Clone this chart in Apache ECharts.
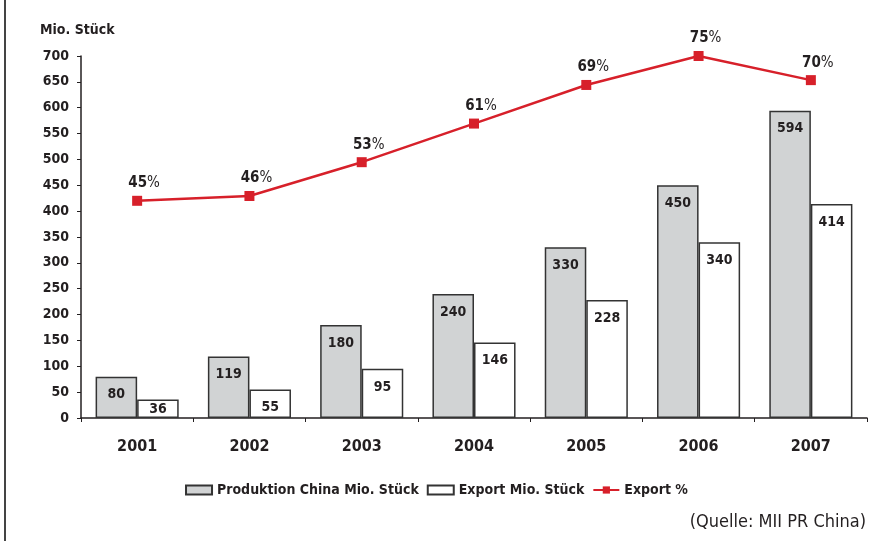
<!DOCTYPE html>
<html>
<head>
<meta charset="utf-8">
<script src="https://cdn.jsdelivr.net/npm/echarts@6/dist/echarts.min.js"></script>
<style>
  html, body { margin: 0; padding: 0; background: #fff; }
  #chart { width: 873px; height: 541px; }
</style>
</head>
<body>
<div id="chart"></div>
<script>
var years = ['2001', '2002', '2003', '2004', '2005', '2006', '2007'];
var produktion = [80, 119, 180, 240, 330, 450, 594];
var exportMio = [36, 55, 95, 146, 228, 340, 414];
var exportPct = [45, 46, 53, 61, 69, 75, 70];

var FONT = "'Liberation Sans Narrow', 'DejaVu Sans Condensed', sans-serif";
var INK = '#231f20';

var chart = echarts.init(document.getElementById('chart'));

var barLabel = {
    show: true,
    position: 'insideTop',
    distance: 11,
    color: INK,
    fontFamily: FONT,
    fontSize: 14,
    fontWeight: 'bold'
};

// kleine Balken: Label etwas höher
function barData(arr) {
    return arr.map(function (v) {
        if (v < 45) return { value: v, label: { distance: 3 } };
        return v;
    });
}

var option = {
    animation: false,
    textStyle: { fontFamily: FONT },
    grid: { left: 81, right: 6, top: 56, bottom: 123 },
    legend: {
        bottom: 39,
        left: 'center',
        itemWidth: 26,
        itemHeight: 9,
        itemGap: 8,
        textStyle: { color: INK, fontFamily: FONT, fontSize: 14, fontWeight: 'bold' },
        data: [
            { name: 'Produktion China Mio. Stück', icon: 'rect' },
            { name: 'Export Mio. Stück', icon: 'rect' },
            { name: 'Export %' }
        ]
    },
    xAxis: {
        type: 'category',
        data: years,
        axisLine: { lineStyle: { color: INK, width: 1.5 } },
        axisTick: { show: true, length: 4, inside: false, lineStyle: { color: INK } },
        axisLabel: { color: INK, fontFamily: FONT, fontSize: 16, fontWeight: 'bold', margin: 21 }
    },
    yAxis: [{
        type: 'value',
        min: 0,
        max: 700,
        interval: 50,
        name: 'Mio. Stück',
        nameLocation: 'end',
        nameGap: 19,
        nameTextStyle: { color: INK, fontFamily: FONT, fontSize: 14, fontWeight: 'bold', align: 'left', padding: [0, 0, 0, -41] },
        axisLine: { show: true, lineStyle: { color: INK, width: 1.5 } },
        axisTick: { show: true, length: 4, lineStyle: { color: INK } },
        axisLabel: { color: INK, fontFamily: FONT, fontSize: 14, fontWeight: 'bold', margin: 12 },
        splitLine: { show: false }
    }, {
        type: 'value',
        min: 0,
        max: 75,
        show: false,
        splitLine: { show: false }
    }],
    series: [{
        name: 'Produktion China Mio. Stück',
        type: 'bar',
        data: barData(produktion),
        barGap: '0%',
        barCategoryGap: '26%',
        itemStyle: { color: '#d1d3d4', borderColor: '#333', borderWidth: 1.5 },
        label: barLabel
    }, {
        name: 'Export Mio. Stück',
        type: 'bar',
        data: barData(exportMio),
        itemStyle: { color: '#ffffff', borderColor: '#333', borderWidth: 1.5 },
        label: barLabel
    }, {
        name: 'Export %',
        type: 'line',
        yAxisIndex: 1,
        data: exportPct,
        symbol: 'rect',
        symbolSize: 10,
        color: '#d7202a',
        lineStyle: { color: '#d7202a', width: 2.5 },
        itemStyle: { color: '#d7202a' },
        label: {
            show: true,
            position: 'top',
            distance: 5,
            offset: [7, 0],
            formatter: function (p) { return '{b|' + p.value + '}{n|%}'; },
            rich: {
                b: { color: INK, fontFamily: FONT, fontSize: 15, fontWeight: 'bold' },
                n: { color: INK, fontFamily: FONT, fontSize: 15, fontWeight: 'normal' }
            }
        }
    }],
    graphic: [{
        type: 'rect',
        shape: { x: 4, y: 0, width: 2, height: 541 },
        style: { fill: '#444' }
    }, {
        type: 'text',
        right: 7,
        bottom: 10,
        style: { text: '(Quelle: MII PR China)', fill: INK, font: '18px ' + FONT }
    }]
};

chart.setOption(option);
</script>
</body>
</html>
